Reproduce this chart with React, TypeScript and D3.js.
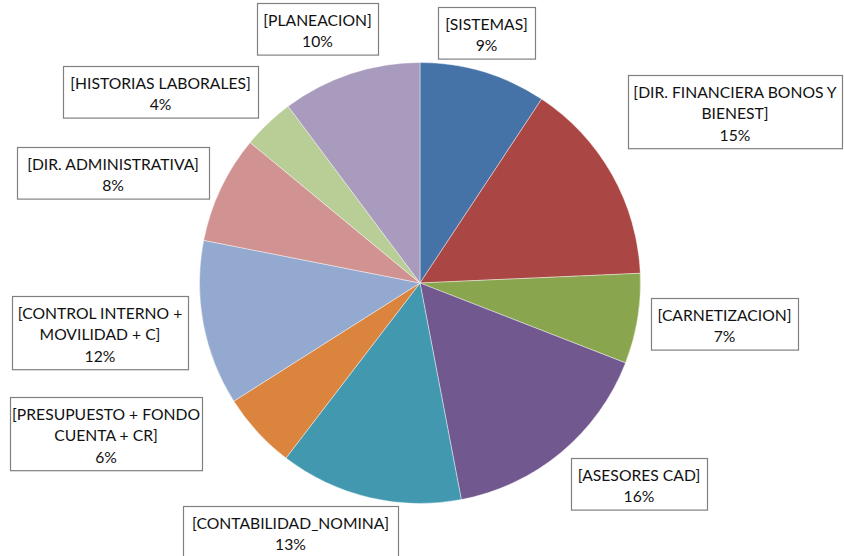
import React from "react";
import * as d3 from "d3";

const categories = [
  "SISTEMAS",
  "DIR. FINANCIERA BONOS Y BIENEST",
  "CARNETIZACION",
  "ASESORES CAD",
  "CONTABILIDAD_NOMINA",
  "PRESUPUESTO + FONDO CUENTA + CR",
  "CONTROL INTERNO + MOVILIDAD + C",
  "DIR. ADMINISTRATIVA",
  "HISTORIAS LABORALES",
  "PLANEACION",
];

const values = [9.3, 15.0, 6.6, 16.1, 13.4, 5.6, 12.1, 7.9, 3.8, 10.2];

const nameLines = [
  ["[SISTEMAS]"],
  ["[DIR. FINANCIERA BONOS Y", "BIENEST]"],
  ["[CARNETIZACION]"],
  ["[ASESORES CAD]"],
  ["[CONTABILIDAD_NOMINA]"],
  ["[PRESUPUESTO + FONDO", "CUENTA + CR]"],
  ["[CONTROL INTERNO +", "MOVILIDAD + C]"],
  ["[DIR. ADMINISTRATIVA]"],
  ["[HISTORIAS LABORALES]"],
  ["[PLANEACION]"],
];

const colors = [
  "#4572A7",
  "#AA4643",
  "#89A54E",
  "#71588F",
  "#4198AF",
  "#DB843D",
  "#93A9CF",
  "#D19392",
  "#B9CD96",
  "#A99BBD",
];

// label box layout [x0, y0, x1]
const boxLayout: [number, number, number][] = [
  [438, 7, 535],
  [628, 75, 842],
  [651, 298, 798],
  [571, 458, 707],
  [183, 506, 398],
  [10, 397, 202],
  [12, 296, 188],
  [17, 147, 209],
  [63, 66, 258],
  [257, 3, 378],
];

const W = 844;
const H = 556;
const cx = 420;
const cy = 283;
const R = 220.5;
const LINE = 21.6;

export default function App() {
  const total = d3.sum(values);
  const pie = d3
    .pie<number>()
    .sort(null)
    .startAngle(0)
    .endAngle(2 * Math.PI)
    .value((d) => d);
  const arcs = pie(values);
  const arcGen = d3.arc<d3.PieArcDatum<number>>().innerRadius(0).outerRadius(R);

  return (
    <svg
      width={W}
      height={H}
      style={{ position: "absolute", left: 0, top: 0, background: "#fff" }}
      fontFamily="Lato, 'Liberation Sans', Arial, sans-serif"
    >
      <rect x={0} y={0} width={W} height={H} fill="#fff" />
      <g transform={`translate(${cx},${cy})`}>
        {arcs.map((a, i) => (
          <path
            key={categories[i]}
            d={arcGen(a) || ""}
            fill={colors[i]}
            stroke="#ffffff"
            strokeOpacity={0.6}
            strokeWidth={0.7}
          />
        ))}
      </g>
      {categories.map((c, i) => {
        const [x0, y0, x1] = boxLayout[i];
        const lines = [
          ...nameLines[i],
          `${Math.round((values[i] / total) * 100)}%`,
        ];
        const h = 22 + (lines.length - 1) * LINE + 8;
        const mid = (x0 + x1) / 2;
        return (
          <g key={c}>
            <rect
              x={x0 + 0.5}
              y={y0 + 0.5}
              width={x1 - x0}
              height={h}
              fill="#fff"
              stroke="#808080"
              strokeWidth={1.2}
            />
            {lines.map((t, j) => (
              <text
                key={j}
                x={mid}
                y={y0 + 22.5 + j * LINE}
                textAnchor="middle"
                fontSize={15.7}
                fill="#111"
              >
                {t}
              </text>
            ))}
          </g>
        );
      })}
    </svg>
  );
}
